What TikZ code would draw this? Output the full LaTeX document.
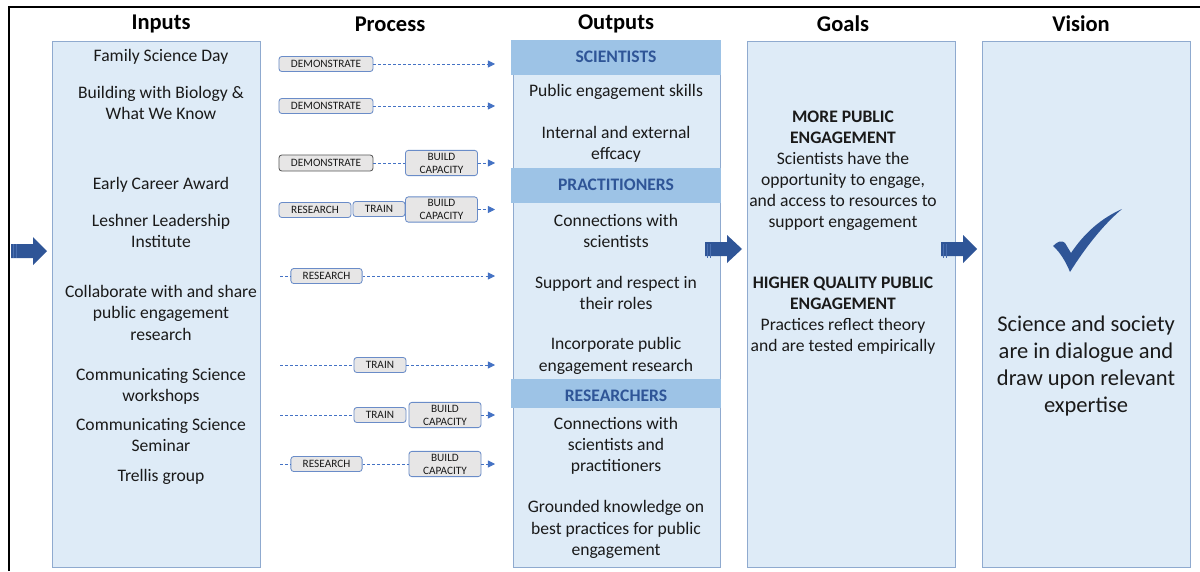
\documentclass[tikz,border=0pt]{standalone}
\usepackage{fontspec}
\setmainfont{Carlito}
\usetikzlibrary{arrows.meta}
\definecolor{colfill}{HTML}{DEEBF7}
\definecolor{colline}{HTML}{8FAACF}
\definecolor{bandfill}{HTML}{9DC3E6}
\definecolor{bandtext}{HTML}{2F5597}
\definecolor{arrowblue}{HTML}{2F5597}
\definecolor{stripeblue}{HTML}{4A6FB0}
\definecolor{procgray}{HTML}{E7E6E6}
\definecolor{procline}{HTML}{6A8CC8}
\definecolor{dashblue}{HTML}{4472C4}
\definecolor{maintext}{HTML}{1A1A1A}
\begin{document}
\begin{tikzpicture}[x=0.025cm, y=-0.025cm,
  every node/.style={font=\fontsize{12.5}{15}\selectfont, align=center, inner sep=0pt, text=maintext},
  txt/.style={yshift=-1pt},
  head/.style={font=\fontsize{16}{19}\selectfont\bfseries, text=black, yshift=-1.5pt},
  colbox/.style={draw=colline, fill=colfill, line width=0.6pt},
  band/.style={fill=bandfill},
  bandlabel/.style={font=\fontsize{12.5}{15}\selectfont\bfseries, text=bandtext, yshift=-1pt},
  pbox/.style={draw=procline, fill=procgray, rounded corners=2pt, line width=0.6pt,
    font=\fontsize{8}{9.2}\selectfont, minimum height=0.375cm},
  bcap/.style={pbox, minimum height=0.63cm, minimum width=1.8cm},
  flow/.style={draw=dashblue, line width=0.6pt, dash pattern=on 2pt off 1.5pt,
    -{Triangle[length=5pt,width=5pt]}},
  link/.style={draw=dashblue, line width=0.6pt, dash pattern=on 2pt off 1.5pt},
  bigarrow/.style={fill=arrowblue}]
\useasboundingbox (0,0) rectangle (1200,571);

% frame
\draw[line width=1.2pt] (9,571) -- (9,7) -- (1200,7);

% headers
\node[head] (hIn) at (161,22) {Inputs};
\node[head] (hPr) at (390,22) {Process};
\node[head] (hOut) at (616,22) {Outputs};
\node[head] (hGo) at (843,22) {Goals};
\node[head] (hVi) at (1081,22) {Vision};

% columns
\draw[colbox] (52,41) rectangle (260,567);
\draw[colbox] (513,40) rectangle (720,567);
\draw[colbox] (747,41) rectangle (955,567);
\draw[colbox] (982,41) rectangle (1190,567);

% inputs
\node[txt] (I1) at (161,55) {Family Science Day};
\node[txt] (I2) at (161,101.5) {Building with Biology \&\\What We Know};
\node[txt] (I3) at (161,183) {Early Career Award};
\node[txt] (I4) at (161,229.5) {Leshner Leadership\\Institute};
\node[txt] (I5) at (161,311.5) {Collaborate with and share\\public engagement\\research};
\node[txt] (I6) at (161,384.5) {Communicating Science\\workshops};
\node[txt] (I7) at (161,433.5) {Communicating Science\\Seminar};
\node[txt] (I8) at (161,475) {Trellis group};

% outputs
\fill[band] (511,40) rectangle (721,75);
\fill[band] (511,168) rectangle (721,203);
\fill[band] (511,379) rectangle (721,408);
\node[bandlabel] (SC) at (616,55) {SCIENTISTS};
\node[bandlabel] (PR) at (616,183) {PRACTITIONERS};
\node[bandlabel] (RE) at (616,394) {RESEARCHERS};
\node[txt] (O1) at (616,91) {Public engagement skills};
\node[txt] (O2) at (616,143) {Internal and external\\effcacy};
\node[txt] (O3) at (616,229.5) {Connections with\\scientists};
\node[txt] (O4) at (616,292) {Support and respect in\\their roles};
\node[txt] (O5) at (616,354.5) {Incorporate public\\engagement research};
\node[txt] (O6) at (616,444) {Connections with\\scientists and\\practitioners};
\node[txt] (O7) at (616,528) {Grounded knowledge on\\best practices for public\\engagement};

% goals
\node[txt] (G1) at (843,169.5) {\textbf{MORE PUBLIC}\\\textbf{ENGAGEMENT}\\Scientists have the\\opportunity to engage,\\and access to resources to\\support engagement};
\node[txt] (G2) at (843,314.5) {\textbf{HIGHER QUALITY PUBLIC}\\\textbf{ENGAGEMENT}\\Practices reflect theory\\and are tested empirically};

% vision
\fill[arrowblue] (1053,246) .. controls (1058,241) and (1062,240) .. (1065,243)
  -- (1071,253) .. controls (1085,232) and (1102,218) .. (1122,209)
  .. controls (1103,225) and (1085,248) .. (1070,272)
  .. controls (1066,262) and (1060,252) .. (1053,246) -- cycle;
\node[txt, font=\fontsize{16}{19.2}\selectfont] (V) at (1086,364.5) {Science and society\\are in dialogue and\\draw upon relevant\\expertise};

% big arrows
\fill[bigarrow] (11,244) -- (33,244) -- (33,237) -- (47,251) -- (33,265) -- (33,258) -- (11,258) -- cycle;
\fill[bigarrow] (705,242) -- (727,242) -- (727,235) -- (742,249) -- (727,263) -- (727,256) -- (705,256) -- cycle;
\fill[bigarrow] (941,242) -- (963,242) -- (963,235) -- (977,249) -- (963,263) -- (963,256) -- (941,256) -- cycle;
\foreach \x in {13,16,707,710,943,946}
  \draw[stripeblue, line width=0.5pt] (\x,244) -- (\x,258);

% process
\node[pbox, minimum width=2.35cm] (D1) at (326,64) {DEMONSTRATE};
\coordinate (E1) at (495,64);
\draw[flow] (D1) -- (E1);

\node[pbox, minimum width=2.35cm] (D2) at (326,106) {DEMONSTRATE};
\coordinate (E2) at (495,106);
\draw[flow] (D2) -- (E2);

\node[pbox, minimum width=2.35cm, minimum height=0.4cm, draw=black!65] (D3) at (326,163) {DEMONSTRATE};
\node[bcap] (B3) at (441.5,163) {BUILD\\CAPACITY};
\coordinate (E3) at (495,163);
\draw[link] (D3) -- (B3);
\draw[flow] (B3) -- (E3);

\node[pbox, minimum width=1.8cm] (R4) at (315,210) {RESEARCH};
\node[pbox, minimum width=1.3cm] (T4) at (379,209) {TRAIN};
\node[bcap] (B4) at (441.5,209.5) {BUILD\\CAPACITY};
\coordinate (E4) at (495,209.5);
\draw[flow] (B4) -- (E4);

\coordinate (S5) at (280,276);
\node[pbox, minimum width=1.78cm] (R5) at (326.5,276) {RESEARCH};
\coordinate (E5) at (495,276);
\draw[link] (S5) -- (R5);
\draw[flow] (R5) -- (E5);

\coordinate (S6) at (280,365);
\node[pbox, minimum width=1.3cm] (T6) at (380,365) {TRAIN};
\coordinate (E6) at (495,365);
\draw[link] (S6) -- (T6);
\draw[flow] (T6) -- (E6);

\coordinate (S7) at (280,415);
\node[pbox, minimum width=1.3cm] (T7) at (380,415) {TRAIN};
\node[bcap] (B7) at (445,415) {BUILD\\CAPACITY};
\coordinate (E7) at (495,415);
\draw[link] (S7) -- (T7);
\draw[flow] (B7) -- (E7);

\coordinate (S8) at (280,464);
\node[pbox, minimum width=1.78cm] (R8) at (326.5,464) {RESEARCH};
\node[bcap] (B8) at (445,464) {BUILD\\CAPACITY};
\coordinate (E8) at (495,464);
\draw[link] (S8) -- (R8);
\draw[link] (R8) -- (B8);
\draw[flow] (B8) -- (E8);
\end{tikzpicture}
\end{document}
